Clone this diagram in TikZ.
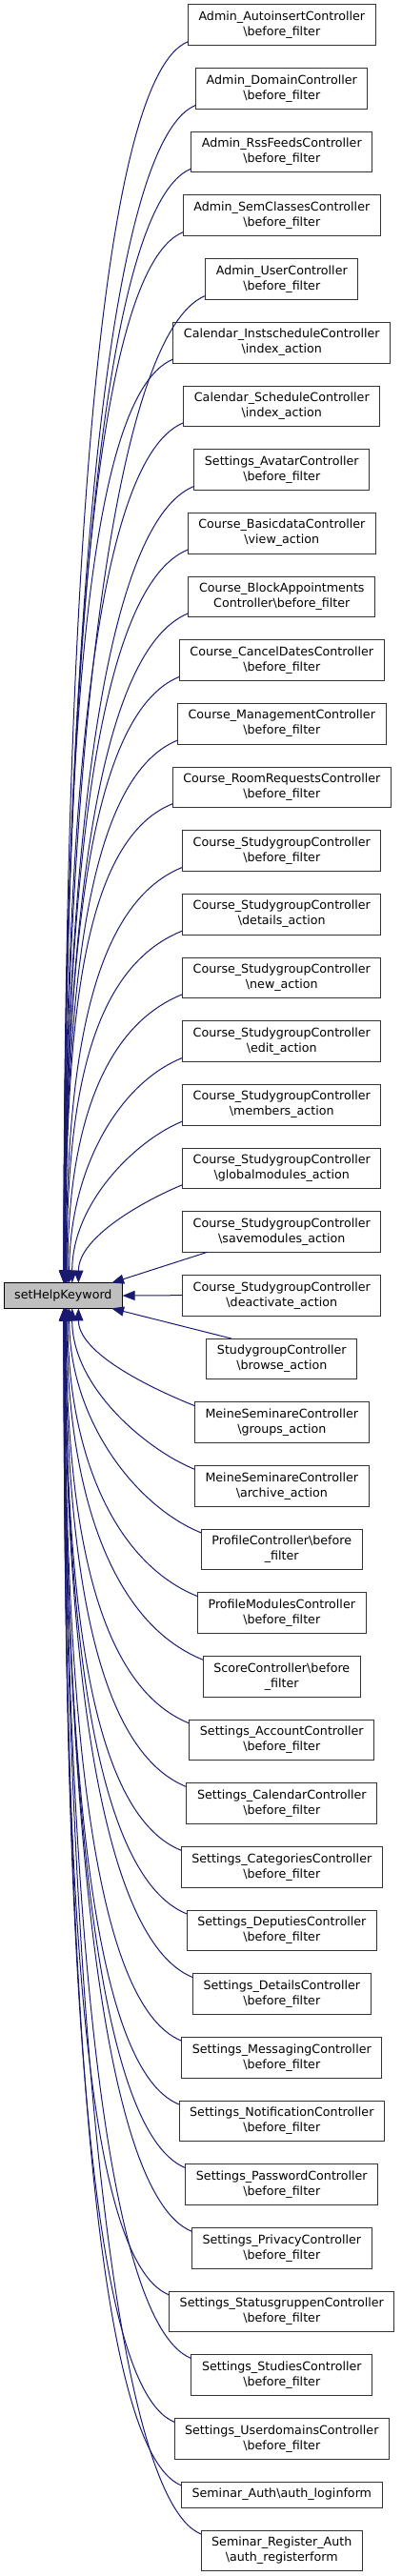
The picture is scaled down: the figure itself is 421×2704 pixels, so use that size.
\documentclass[tikz,border=0pt]{standalone}
\usepackage{fontspec}
\setmainfont{DejaVu Sans}
\usetikzlibrary{arrows.meta,calc,positioning}
\newcommand{\bsl}{\textbackslash}
\definecolor{callink}{HTML}{191970}
\definecolor{callborder}{HTML}{333333}
\definecolor{targetfill}{HTML}{BFBFBF}
\tikzset{
  callerbox/.style={draw=callborder,fill=white,line width=0.75pt,align=center,
    inner xsep=8.3pt,inner ysep=0pt,outer sep=0pt,
    font=\fontsize{9.5pt}{12pt}\selectfont},
  targetbox/.style={draw=black,fill=targetfill,line width=0.75pt,
    inner xsep=8.3pt,inner ysep=0pt,outer sep=0pt,minimum height=20pt,
    font=\fontsize{9.5pt}{12pt}\selectfont},
  callline/.style={draw=callink,line width=0.75pt,
    {Triangle[length=9.75pt,width=7.5pt]}-},
}
\begin{document}
\begin{tikzpicture}[x=0.75pt,y=-0.75pt,node distance=18pt]
  \useasboundingbox (0,0) rectangle (421,2704);
  \node[targetbox] (hk) at (66.35,1360) {setHelpKeyword};
  % callers, stacked from the top
  \coordinate (c0) at (295.8,-19);
  \foreach \i/\txt [remember=\i as \prev (initially 0)] in {
    1/{Admin\_AutoinsertController\\\bsl before\_filter},
    2/{Admin\_DomainController\\\bsl before\_filter},
    3/{Admin\_RssFeedsController\\\bsl before\_filter},
    4/{Admin\_SemClassesController\\\bsl before\_filter},
    5/{Admin\_UserController\\\bsl before\_filter},
    6/{Calendar\_InstscheduleController\\\bsl index\_action},
    7/{Calendar\_ScheduleController\\\bsl index\_action},
    8/{Settings\_AvatarController\\\bsl before\_filter},
    9/{Course\_BasicdataController\\\bsl view\_action},
    10/{Course\_BlockAppointments\\Controller\bsl before\_filter},
    11/{Course\_CancelDatesController\\\bsl before\_filter},
    12/{Course\_ManagementController\\\bsl before\_filter},
    13/{Course\_RoomRequestsController\\\bsl before\_filter},
    14/{Course\_StudygroupController\\\bsl before\_filter},
    15/{Course\_StudygroupController\\\bsl details\_action},
    16/{Course\_StudygroupController\\\bsl new\_action},
    17/{Course\_StudygroupController\\\bsl edit\_action},
    18/{Course\_StudygroupController\\\bsl members\_action},
    19/{Course\_StudygroupController\\\bsl globalmodules\_action},
    20/{Course\_StudygroupController\\\bsl savemodules\_action},
    21/{Course\_StudygroupController\\\bsl deactivate\_action},
    22/{StudygroupController\\\bsl browse\_action},
    23/{MeineSeminareController\\\bsl groups\_action},
    24/{MeineSeminareController\\\bsl archive\_action},
    25/{ProfileController\bsl before\\\_filter},
    26/{ProfileModulesController\\\bsl before\_filter},
    27/{ScoreController\bsl before\\\_filter},
    28/{Settings\_AccountController\\\bsl before\_filter},
    29/{Settings\_CalendarController\\\bsl before\_filter},
    30/{Settings\_CategoriesController\\\bsl before\_filter},
    31/{Settings\_DeputiesController\\\bsl before\_filter},
    32/{Settings\_DetailsController\\\bsl before\_filter},
    33/{Settings\_MessagingController\\\bsl before\_filter},
    34/{Settings\_NotificationController\\\bsl before\_filter},
    35/{Settings\_PasswordController\\\bsl before\_filter},
    36/{Settings\_PrivacyController\\\bsl before\_filter},
    37/{Settings\_StatusgruppenController\\\bsl before\_filter},
    38/{Settings\_StudiesController\\\bsl before\_filter},
    39/{Settings\_UserdomainsController\\\bsl before\_filter},
    40/{Seminar\_Auth\bsl auth\_loginform},
    41/{Seminar\_Register\_Auth\\\bsl auth\_registerform}}
  {
    \ifnum\i=40 \def\mh{20.25pt}\else\def\mh{32pt}\fi
    \node[callerbox,minimum height=\mh,below=of c\prev] (c\i) {\txt};
  }
  % calls into setHelpKeyword
  \draw[callline] (hk.east) -- (c21.west);
  \foreach \i in {1,...,20,22,23,...,41}{
    \pgfmathtruncatemacro{\k}{abs(\i-21)}
    \ifnum\i<21
      \def\tanc{north west}\def\canc{south west}\def\sg{1}
    \else
      \def\tanc{south west}\def\canc{north west}\def\sg{-1}
    \fi
    \ifnum\k=1
      \draw[callline] ($(hk.\tanc)+(113,0)$) -- ($(c\i.\canc)+(26,0)$);
    \else
      \pgfmathsetmacro{\dx}{62+40/(\k^1.3)}
      \pgfmathsetmacro{\a}{min(100,0.3*(66.66*\k-40))}
      \draw[callline] let \p1=($(hk.\tanc)+(\dx,0)$),
          \p2=($(c\i.\canc)+(0,-4*\sg)$) in
        (\p1) .. controls (\x1,{0.5*(\y1+\y2)}) and ($(\p2)+(-\a,0.4*\a*\sg)$) .. (\p2);
    \fi
  }
\end{tikzpicture}
\end{document}
